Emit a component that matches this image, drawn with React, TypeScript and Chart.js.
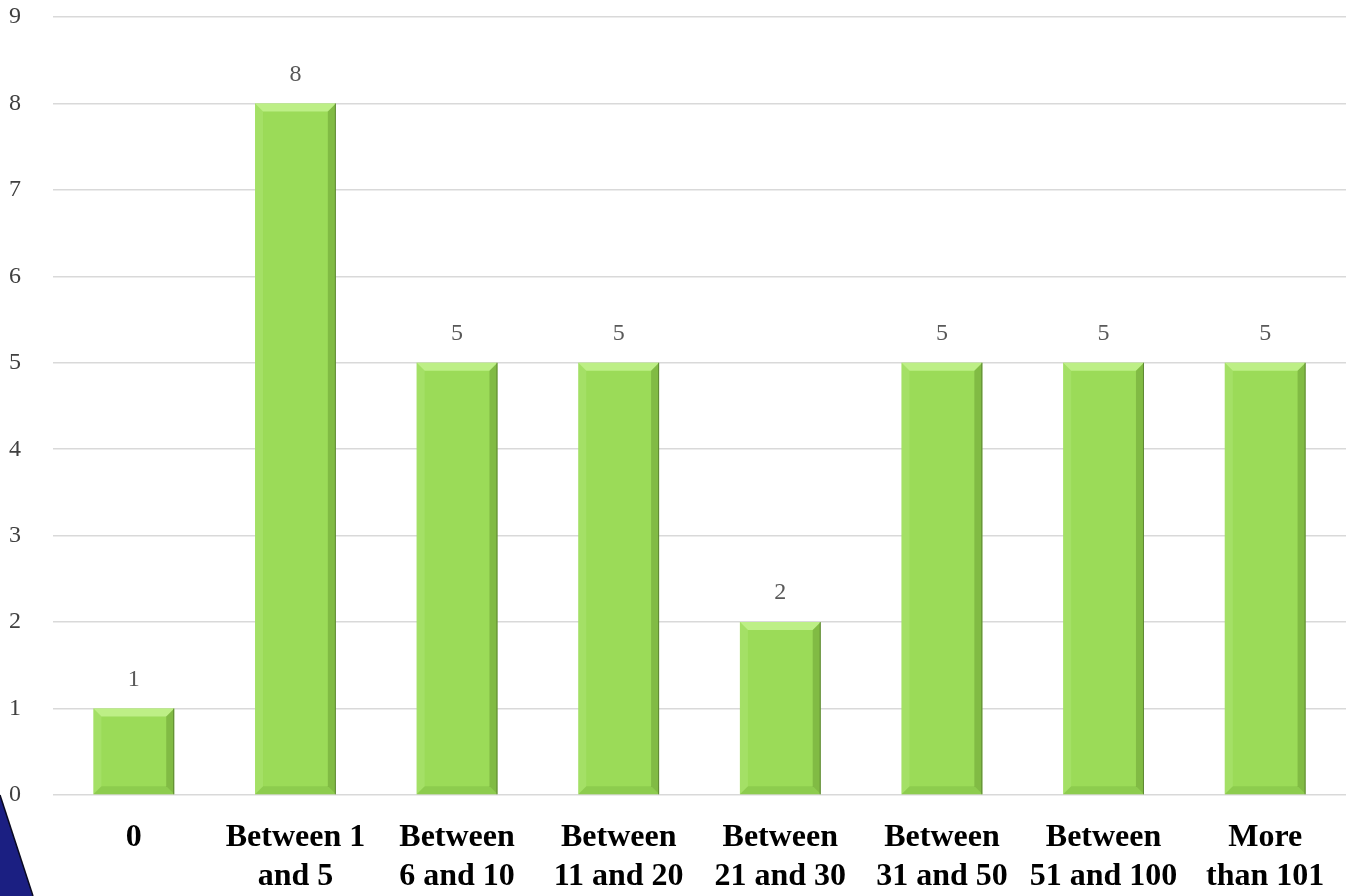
import React, { useEffect, useRef } from "react";
import { Chart, registerables } from "chart.js";

Chart.register(...registerables);

const categories: (string | string[])[] = [
  "0",
  ["Between 1", "and 5"],
  ["Between", "6 and 10"],
  ["Between", "11 and 20"],
  ["Between", "21 and 30"],
  ["Between", "31 and 50"],
  ["Between", "51 and 100"],
  ["More", "than 101"],
];
const counts: number[] = [1, 8, 5, 5, 2, 5, 5, 5];
const yMax = 9;

const SERIF = "'Liberation Serif', 'Times New Roman', serif";

const bevelPlugin = {
  id: "bevel",
  afterDatasetsDraw(chart: any) {
    const ctx = chart.ctx;
    const meta = chart.getDatasetMeta(0);
    meta.data.forEach((bar: any) => {
      const { x, y, base, width } = bar.getProps(["x", "y", "base", "width"], true);
      const l = x - width / 2;
      const r = x + width / 2;
      const t = y;
      const b = base;
      const s = Math.min(8, (b - t) / 3);
      ctx.save();
      ctx.fillStyle = "rgba(200,245,150,0.75)";
      ctx.beginPath();
      ctx.moveTo(l, t);
      ctx.lineTo(r, t);
      ctx.lineTo(r - s, t + s);
      ctx.lineTo(l + s, t + s);
      ctx.closePath();
      ctx.fill();
      ctx.fillStyle = "rgba(180,235,130,0.35)";
      ctx.beginPath();
      ctx.moveTo(l, t);
      ctx.lineTo(l + s, t + s);
      ctx.lineTo(l + s, b - s);
      ctx.lineTo(l, b);
      ctx.closePath();
      ctx.fill();
      ctx.fillStyle = "rgba(90,140,40,0.4)";
      ctx.beginPath();
      ctx.moveTo(r, t);
      ctx.lineTo(r - s, t + s);
      ctx.lineTo(r - s, b - s);
      ctx.lineTo(r, b);
      ctx.closePath();
      ctx.fill();
      ctx.fillStyle = "rgba(110,170,55,0.3)";
      ctx.beginPath();
      ctx.moveTo(l, b);
      ctx.lineTo(l + s, b - s);
      ctx.lineTo(r - s, b - s);
      ctx.lineTo(r, b);
      ctx.closePath();
      ctx.fill();
      ctx.strokeStyle = "rgba(70,100,40,0.6)";
      ctx.lineWidth = 1;
      ctx.beginPath();
      ctx.moveTo(r - 0.5, t);
      ctx.lineTo(r - 0.5, b);
      ctx.stroke();
      ctx.restore();
    });
  },
};

const labelPlugin = {
  id: "valueLabels",
  afterDatasetsDraw(chart: any) {
    const ctx = chart.ctx;
    const meta = chart.getDatasetMeta(0);
    ctx.save();
    ctx.font = `24px ${SERIF}`;
    ctx.fillStyle = "#595959";
    ctx.textAlign = "center";
    ctx.textBaseline = "middle";
    meta.data.forEach((bar: any, i: number) => {
      ctx.fillText(String(counts[i]), bar.x, bar.y - 29);
    });
    ctx.restore();
  },
};

const decorPlugin = {
  id: "decor",
  beforeDraw(chart: any) {
    const ctx = chart.ctx;
    ctx.save();
    ctx.fillStyle = "#ffffff";
    ctx.fillRect(0, 0, chart.width, chart.height);
    ctx.restore();
  },
  afterDraw(chart: any) {
    const ctx = chart.ctx;
    const h = chart.height;
    ctx.save();
    ctx.fillStyle = "#1B1F82";
    ctx.strokeStyle = "#0a0a20";
    ctx.lineWidth = 1.5;
    ctx.beginPath();
    ctx.moveTo(0, h - 101);
    ctx.lineTo(33, h);
    ctx.lineTo(0, h);
    ctx.closePath();
    ctx.fill();
    ctx.beginPath();
    ctx.moveTo(0, h - 101);
    ctx.lineTo(33, h);
    ctx.stroke();
    ctx.restore();
  },
};

export default function App() {
  const canvasRef = useRef<HTMLCanvasElement | null>(null);

  useEffect(() => {
    if (!canvasRef.current) return;
    const chart = new Chart(canvasRef.current, {
      type: "bar",
      data: {
        labels: categories,
        datasets: [
          {
            data: counts,
            backgroundColor: "#9BDB58",
            borderWidth: 0,
            barPercentage: 1,
            categoryPercentage: 0.5,
          },
        ],
      },
      options: {
        animation: false,
        responsive: false,
        maintainAspectRatio: false,
        layout: { padding: { top: 17, right: 5, left: 0, bottom: 0 } },
        plugins: {
          legend: { display: false },
          tooltip: { enabled: false },
        },
        scales: {
          x: {
            grid: { display: false, drawTicks: false },
            border: { display: false },
            ticks: {
              color: "#000000",
              font: { family: SERIF, size: 32, weight: "bold", lineHeight: 1.2 },
              padding: 24,
              maxRotation: 0,
              autoSkip: false,
            },
            afterFit(scale: any) {
              scale.height = 101;
              scale.paddingLeft = 0;
              scale.paddingRight = 0;
            },
          },
          y: {
            min: 0,
            max: yMax,
            grid: { color: "#D9D9D9", lineWidth: 1.5, drawTicks: false },
            border: { display: false },
            ticks: {
              stepSize: 1,
              color: "#404040",
              font: { family: SERIF, size: 24 },
              padding: 32,
            },
            afterFit(scale: any) {
              scale.width = 53;
              scale.paddingTop = 0;
              scale.paddingBottom = 0;
            },
          },
        },
      },
      plugins: [decorPlugin, bevelPlugin, labelPlugin],
    });
    return () => chart.destroy();
  }, []);

  return (
    <div style={{ position: "fixed", left: 0, top: 0, width: 1351, height: 896, background: "#fff" }}>
      <canvas ref={canvasRef} width={1351} height={896} style={{ width: 1351, height: 896 }} />
    </div>
  );
}
